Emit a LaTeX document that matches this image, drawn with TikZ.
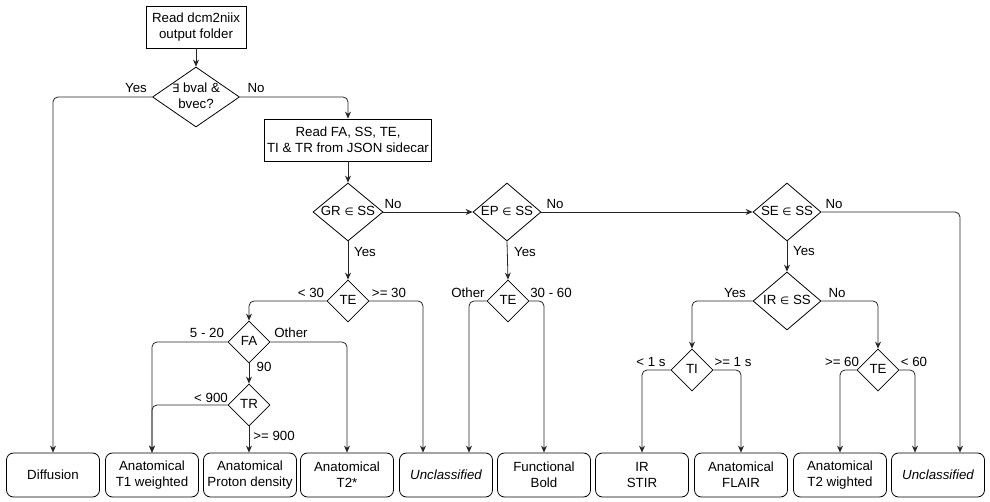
\documentclass[tikz,border=0pt]{standalone}
\usepackage{fontspec}
\setmainfont{Liberation Sans}
\newfontfamily\symfont{DejaVu Sans}
\usetikzlibrary{shapes.geometric,arrows.meta,calc}
\newcommand{\dtx}[1]{\makebox[0pt][c]{\begin{tabular}{@{}c@{}}#1\end{tabular}}}
\newcommand{\elem}{{\symfont\fontsize{10.5}{12}\selectfont ∈}}
\begin{document}
\begin{tikzpicture}[x=1pt,y=-1pt,
  font=\fontsize{13.3}{16}\selectfont,
  proc/.style={draw=black, line width=0.8pt, fill=white, align=center, inner sep=0pt, minimum height=42pt},
  dec/.style={draw=black, line width=0.8pt, diamond, aspect=1, inner sep=0pt},
  res/.style={draw=black, line width=0.8pt, rounded corners=7pt, minimum width=93pt, minimum height=44pt, align=center, inner sep=0pt},
  conn/.style={draw=black!85, line width=0.8pt, rounded corners=5pt, -{Stealth[length=7pt,width=6pt]}},
  lbl/.style={inner sep=0pt}
]
\useasboundingbox (0,0) rectangle (990,502);

% process boxes
\node[proc, minimum width=100pt] (b1) at (196,27) {Read dcm2niix\\output folder};
\node[dec, minimum width=87pt, minimum height=60pt] (d1) at (196,97) {\dtx{{\symfont\fontsize{11.5}{13}\selectfont ∃} bval \&\\bvec?}};
\node[proc, minimum width=167pt] (read) at (348,140) {Read FA, SS, TE,\\TI \& TR from JSON sidecar};

% decisions
\node[dec, minimum width=70pt, minimum height=58pt] (gr) at (348,212) {\dtx{GR \elem{} SS}};
\node[dec, minimum width=68pt, minimum height=58pt] (ep) at (507,212) {\dtx{EP \elem{} SS}};
\node[dec, minimum width=68pt, minimum height=58pt] (se) at (787,212) {\dtx{SE \elem{} SS}};
\node[dec, minimum width=42pt, minimum height=42pt] (te1) at (348,301) {\dtx{TE}};
\node[dec, minimum width=42pt, minimum height=42pt] (te3) at (508,301) {\dtx{TE}};
\node[dec, minimum width=68pt, minimum height=58pt] (ir) at (787,301) {\dtx{IR \elem{} SS}};
\node[dec, minimum width=42pt, minimum height=42pt] (fa) at (249,342) {\dtx{FA}};
\node[dec, minimum width=42pt, minimum height=42pt] (tr) at (249,405) {\dtx{TR}};
\node[dec, minimum width=42pt, minimum height=42pt] (ti) at (692,370) {\dtx{TI}};
\node[dec, minimum width=42pt, minimum height=42pt] (te2) at (878,370) {\dtx{TE}};

% results
\node[res] (diff) at (53,475) {Diffusion};
\node[res] (t1) at (152,475) {Anatomical\\T1 weighted};
\node[res] (pd) at (250,475) {Anatomical\\Proton density};
\node[res] (t2s) at (347,475) {Anatomical\\T2*};
\node[res] (u1) at (446,475) {\itshape Unclassified};
\node[res] (func) at (544,475) {Functional\\Bold};
\node[res] (stir) at (642,475) {IR\\STIR};
\node[res] (flair) at (741,475) {Anatomical\\FLAIR};
\node[res] (t2w) at (840,475) {Anatomical\\T2 wighted};
\node[res] (u2) at (938,475) {\itshape Unclassified};

\coordinate (u1a) at ([xshift=-23pt]u1.north);
\coordinate (u1b) at ([xshift=23pt]u1.north);
\coordinate (u2a) at ([xshift=-23pt]u2.north);
\coordinate (u2b) at ([xshift=22pt]u2.north);

% connectors
\draw[conn] (b1.south) -- (d1.north);
\draw[conn] (d1.west) -| (diff.north);
\draw[conn] (d1.east) -| (read.north);
\draw[conn] (read.south) -- (gr.north);
\draw[conn] (gr.east) -- (ep.west);
\draw[conn] (ep.east) -- (se.west);
\draw[conn] (se.east) -| (u2b);
\draw[conn] (gr.south) -- (te1.north);
\draw[conn] (ep.south) -- (te3.north);
\draw[conn] (se.south) -- (ir.north);
\draw[conn] (te1.west) -| (fa.north);
\draw[conn] (te1.east) -| (u1a);
\draw[conn] (te3.west) -| (u1b);
\draw[conn] (te3.east) -| (func.north);
\draw[conn] (fa.west) -| (t1.north);
\draw[conn] (fa.east) -| (t2s.north);
\draw[conn] (fa.south) -- (tr.north);
\draw[conn] (tr.west) -| (t1.north);
\draw[conn] (tr.south) -- (tr.south |- pd.north);
\draw[conn] (ir.west) -| (ti.north);
\draw[conn] (ir.east) -| (te2.north);
\draw[conn] (ti.west) -| (stir.north);
\draw[conn] (ti.east) -| (flair.north);
\draw[conn] (te2.west) -| (t2w.north);
\draw[conn] (te2.east) -| (u2a);

% labels
\node[lbl] at (136,88) {Yes};
\node[lbl] at (256,88) {No};
\node[lbl] at (393,204) {No};
\node[lbl] at (365,252) {Yes};
\node[lbl] at (555,204) {No};
\node[lbl] at (525,252) {Yes};
\node[lbl] at (834,204) {No};
\node[lbl] at (804,251) {Yes};
\node[lbl] at (735,293) {Yes};
\node[lbl] at (837,293) {No};
\node[lbl] at (311,293) {< 30};
\node[lbl] at (389,293) {>= 30};
\node[lbl] at (207,333) {5 - 20};
\node[lbl] at (291,333) {Other};
\node[lbl] at (264,367) {90};
\node[lbl] at (211,398) {< 900};
\node[lbl] at (274,436) {>= 900};
\node[lbl] at (468,293) {Other};
\node[lbl] at (551,293) {30 - 60};
\node[lbl] at (651,362) {< 1 s};
\node[lbl] at (733,362) {>= 1 s};
\node[lbl] at (842,362) {>= 60};
\node[lbl] at (914,362) {< 60};
\end{tikzpicture}
\end{document}
